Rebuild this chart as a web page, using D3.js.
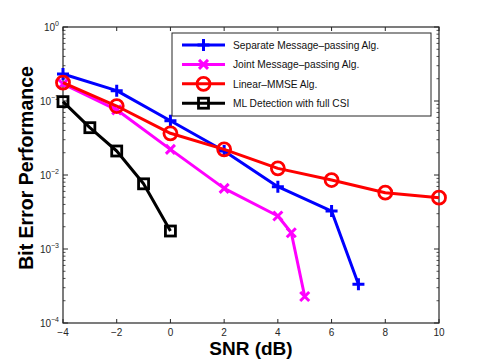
<!DOCTYPE html>
<html>
<head>
<meta charset="utf-8">
<script src="https://cdn.jsdelivr.net/npm/d3@7"></script>
<style>
  body { margin: 0; background: #fff; }
  text { font-family: "Liberation Sans", Arial, sans-serif; }
</style>
</head>
<body>
<svg id="chart" width="485" height="364"></svg>
<script>
// values
var sepX = [-4, -2, 0, 2, 4, 6, 7];
var sepY = [0.232, 0.138, 0.054, 0.0211, 0.00695, 0.00326, 0.000333];

var jointX = [-4, -2, 0, 2, 4, 4.5, 5];
var jointY = [0.17, 0.076, 0.0222, 0.0066, 0.00279, 0.00166, 0.000228];

var mmseX = [-4, -2, 0, 2, 4, 6, 8, 10];
var mmseY = [0.177, 0.0855, 0.0366, 0.0222, 0.0123, 0.00855, 0.00577, 0.00494];

var mlX = [-4, -3, -2, -1, 0];
var mlY = [0.098, 0.0436, 0.0211, 0.0076, 0.00175];

var xTicks = [-4, -2, 0, 2, 4, 6, 8, 10];
var yExps = [0, -1, -2, -3, -4];
var names = ["Separate Message\u2013passing Alg.", "Joint Message\u2013passing Alg.",
             "Linear\u2013MMSE Alg.", "ML Detection with full CSI"];

var series = [
  { name: names[0], x: sepX, y: sepY, color: "#0000ff", marker: "plus" },
  { name: names[1], x: jointX, y: jointY, color: "#ff00ff", marker: "cross" },
  { name: names[2], x: mmseX, y: mmseY, color: "#ff0000", marker: "circle" },
  { name: names[3], x: mlX, y: mlY, color: "#000000", marker: "square" }
];

var svg = d3.select("#chart");
// plot box (window.top is taken, so use p* names)
var pLeft = 63, pRight = 439, pTop = 27, pBottom = 323;

var x = d3.scaleLinear().domain([-4, 10]).range([pLeft, pRight]);
var y = d3.scaleLog().domain([1e-4, 1]).range([pBottom, pTop]);

var axisColor = "#262626";

// minor ticks on log axis
var minor = [];
yExps.slice(1).forEach(function(e) {
  for (var k = 2; k <= 9; k++) minor.push(k * Math.pow(10, e));
});

var ax = svg.append("g");
// box
ax.append("rect").attr("x", pLeft).attr("y", pTop)
  .attr("width", pRight - pLeft).attr("height", pBottom - pTop)
  .attr("fill", "none").attr("stroke", axisColor).attr("stroke-width", 1.2);

// x ticks, inward, bottom and top
xTicks.forEach(function(t) {
  ax.append("line").attr("x1", x(t)).attr("x2", x(t)).attr("y1", pBottom).attr("y2", pBottom - 4)
    .attr("stroke", axisColor);
  ax.append("line").attr("x1", x(t)).attr("x2", x(t)).attr("y1", pTop).attr("y2", pTop + 4)
    .attr("stroke", axisColor);
  ax.append("text").attr("x", x(t)).attr("y", pBottom + 12.5)
    .attr("text-anchor", "middle").attr("font-size", 10).attr("fill", axisColor)
    .text(t < 0 ? "\u2212" + (-t) : t);
});

// y ticks, major and minor, left and right
yExps.forEach(function(e) {
  var v = Math.pow(10, e);
  ax.append("line").attr("x1", pLeft).attr("x2", pLeft + 5).attr("y1", y(v)).attr("y2", y(v)).attr("stroke", axisColor);
  ax.append("line").attr("x1", pRight).attr("x2", pRight - 5).attr("y1", y(v)).attr("y2", y(v)).attr("stroke", axisColor);
  var lab = ax.append("text").attr("x", pLeft - 4).attr("y", y(v) + 4)
    .attr("text-anchor", "end").attr("font-size", 10).attr("fill", axisColor);
  lab.append("tspan").text("10");
  lab.append("tspan").attr("dy", -5).attr("font-size", 7).text(e == 0 ? "0" : "\u2212" + (-e));
});
minor.forEach(function(v) {
  ax.append("line").attr("x1", pLeft).attr("x2", pLeft + 2.5).attr("y1", y(v)).attr("y2", y(v)).attr("stroke", axisColor).attr("stroke-width", 0.8);
  ax.append("line").attr("x1", pRight).attr("x2", pRight - 2.5).attr("y1", y(v)).attr("y2", y(v)).attr("stroke", axisColor).attr("stroke-width", 0.8);
});

// axis titles
svg.append("text").attr("x", (pLeft + pRight) / 2).attr("y", 355)
  .attr("text-anchor", "middle").attr("font-size", 19).attr("font-weight", "bold")
  .text("SNR (dB)");
svg.append("text").attr("transform", "translate(33," + ((pTop + pBottom) / 2 - 7) + ") rotate(-90)")
  .attr("text-anchor", "middle").attr("font-size", 19.5).attr("font-weight", "bold")
  .text("Bit Error Performance");

function drawMarker(g, type, cx, cy, color) {
  if (type == "plus") {
    g.append("path").attr("d", "M" + (cx - 6) + "," + cy + "H" + (cx + 6) + "M" + cx + "," + (cy - 6) + "V" + (cy + 6))
      .attr("stroke", color).attr("stroke-width", 3).attr("fill", "none");
  } else if (type == "cross") {
    g.append("path").attr("d", "M" + (cx - 4.5) + "," + (cy - 4.5) + "L" + (cx + 4.5) + "," + (cy + 4.5) +
        "M" + (cx - 4.5) + "," + (cy + 4.5) + "L" + (cx + 4.5) + "," + (cy - 4.5))
      .attr("stroke", color).attr("stroke-width", 3).attr("fill", "none");
  } else if (type == "circle") {
    g.append("circle").attr("cx", cx).attr("cy", cy).attr("r", 6.5)
      .attr("stroke", color).attr("stroke-width", 2.8).attr("fill", "none");
  } else {
    g.append("rect").attr("x", cx - 5).attr("y", cy - 5).attr("width", 10).attr("height", 10)
      .attr("stroke", color).attr("stroke-width", 2.8).attr("fill", "none");
  }
}

var line = d3.line().x(function(d) { return x(d[0]); }).y(function(d) { return y(d[1]); });

var plot = svg.append("g");
series.forEach(function(s) {
  var pts = d3.zip(s.x, s.y);
  plot.append("path").datum(pts).attr("d", line)
    .attr("fill", "none").attr("stroke", s.color).attr("stroke-width", 3)
    .attr("stroke-linejoin", "round");
  pts.forEach(function(p) { drawMarker(plot, s.marker, x(p[0]), y(p[1]), s.color); });
});

// legend
var lg = svg.append("g");
lg.append("rect").attr("x", 172).attr("y", 33).attr("width", 259).attr("height", 83)
  .attr("fill", "#fff").attr("stroke", axisColor).attr("stroke-width", 1);
series.forEach(function(s, i) {
  var ly = 45 + i * 19.4;
  lg.append("line").attr("x1", 182).attr("x2", 225).attr("y1", ly).attr("y2", ly)
    .attr("stroke", s.color).attr("stroke-width", 3);
  drawMarker(lg, s.marker, 203.5, ly, s.color);
  lg.append("text").attr("x", 233).attr("y", ly + 4).attr("font-size", 10.2).attr("fill", "#111")
    .text(s.name);
});
</script>
</body>
</html>
